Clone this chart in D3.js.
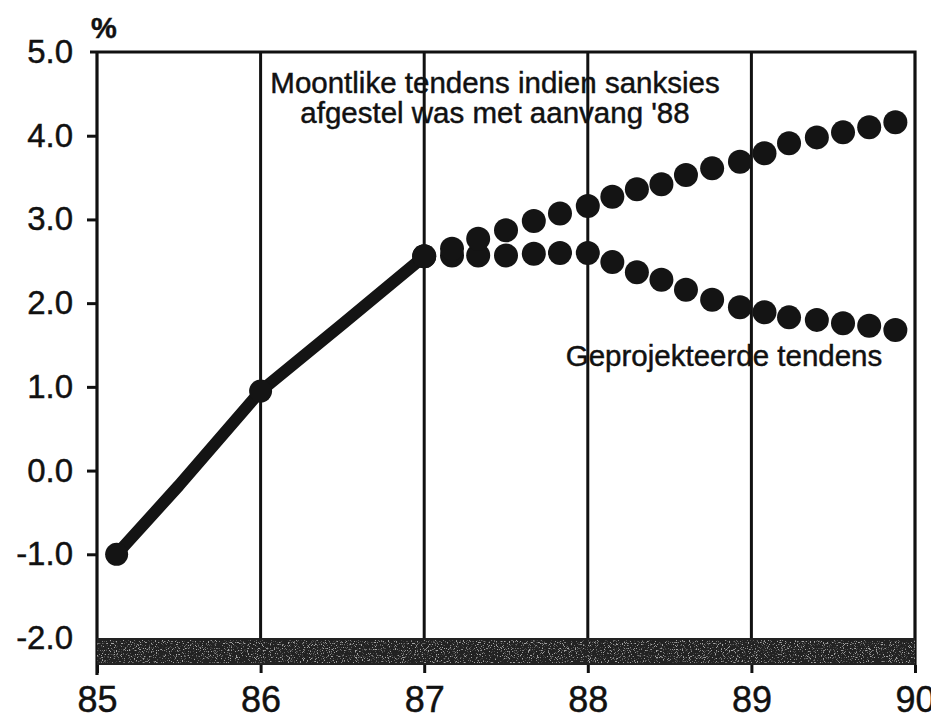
<!DOCTYPE html>
<html>
<head>
<meta charset="utf-8">
<script src="https://cdn.jsdelivr.net/npm/d3@7"></script>
<style>
  html, body { margin: 0; padding: 0; background: #fff; }
  svg { display: block; }
  text { font-family: "Liberation Sans", Arial, Helvetica, sans-serif; fill: #111; stroke: #111; stroke-width: 0.45px; }
</style>
</head>
<body>
<div id="chart"></div>
<script>
// tick labels
const yearTicks = [85, 86, 87, 88, 89, 90];
const pctTicks = [5, 4, 3, 2, 1, 0, -1, -2];

// actual trend up to '87 (solid line)
const actualYears = [85.12, 85.5, 86.0, 86.5, 87.0];
const actualValues = [-1.0, -0.18, 0.95, 1.75, 2.56];
const actualDots = [85.12, 86.0];

// projections from '87 onwards (dotted series)
const projYears = [87.0, 87.17, 87.33, 87.5, 87.67, 87.83, 88.0, 88.15, 88.3, 88.45,
                   88.6, 88.76, 88.93, 89.08, 89.23, 89.4, 89.56, 89.72, 89.88];
const liftedValues = [2.56, 2.65, 2.77, 2.87, 2.98, 3.07, 3.16, 3.27, 3.36, 3.42,
                      3.53, 3.61, 3.69, 3.79, 3.91, 3.98, 4.04, 4.10, 4.16];
const projectedValues = [2.56, 2.57, 2.57, 2.57, 2.59, 2.60, 2.60, 2.49, 2.37, 2.28,
                         2.16, 2.04, 1.95, 1.89, 1.83, 1.80, 1.76, 1.73, 1.68];

const labelLifted = ["Moontlike tendens indien sanksies", "afgestel was met aanvang '88"];
const labelProjected = "Geprojekteerde tendens";

const W = 931, H = 719;

const svg = d3.select("#chart").append("svg")
  .attr("width", W)
  .attr("height", H);

const x = d3.scaleLinear().domain([85, 90]).range([97, 915]);
const y = d3.scaleLinear().domain([-2, 5]).range([638, 52]);
const bandBottom = 665;

// grain texture for the bottom band
const defs = svg.append("defs");
const f = defs.append("filter").attr("id", "grain")
  .attr("x", 0).attr("y", 0).attr("width", 1).attr("height", 1);
f.append("feTurbulence")
  .attr("type", "fractalNoise")
  .attr("baseFrequency", 0.85)
  .attr("numOctaves", 2)
  .attr("seed", 7);
f.append("feColorMatrix")
  .attr("type", "matrix")
  .attr("values", "0 0 0 0 1  0 0 0 0 1  0 0 0 0 1  7 0 0 0 -4.0");

// vertical year lines
svg.append("g")
  .selectAll("line")
  .data(yearTicks.slice(1, -1))
  .enter()
  .append("line")
    .attr("x1", d => x(d))
    .attr("x2", d => x(d))
    .attr("y1", y(5))
    .attr("y2", y(-2))
    .attr("stroke", "#111")
    .attr("stroke-width", 3);

// frame: top, left, right
svg.append("path")
  .attr("d", `M${x(85) - 7},${y(5)}H${x(90)}V${bandBottom}M${x(85)},${y(5)}V${bandBottom + 10}`)
  .attr("fill", "none")
  .attr("stroke", "#111")
  .attr("stroke-width", 3.2);

// bottom band
svg.append("rect")
  .attr("x", x(85))
  .attr("y", y(-2))
  .attr("width", x(90) - x(85))
  .attr("height", bandBottom - y(-2))
  .attr("fill", "#222");
svg.append("rect")
  .attr("x", x(85))
  .attr("y", y(-2) + 2)
  .attr("width", x(90) - x(85))
  .attr("height", bandBottom - y(-2) - 4)
  .attr("fill", "#fff")
  .attr("filter", "url(#grain)")
  .attr("opacity", 0.6);

// Y axis
const yAxis = svg.append("g")
  .attr("transform", `translate(${x(85)},0)`)
  .call(d3.axisLeft(y)
    .tickValues(pctTicks)
    .tickSize(10)
    .tickPadding(14)
    .tickFormat(d => d3.format(".1f")(d).replace("\u2212", "-")));
yAxis.select(".domain").remove();
yAxis.selectAll(".tick line").attr("stroke", "#111").attr("stroke-width", 3)
  .filter(d => d === 5 || d === -2).remove();
yAxis.selectAll(".tick text")
  .attr("font-size", 33)
  .attr("fill", "#111")
  .attr("font-family", "Liberation Sans, Arial, sans-serif");

// X axis
const xAxis = svg.append("g")
  .attr("transform", `translate(0,${bandBottom})`)
  .call(d3.axisBottom(x)
    .tickValues(yearTicks)
    .tickSize(8)
    .tickPadding(13)
    .tickFormat(d => d));
xAxis.select(".domain").remove();
xAxis.selectAll(".tick line").attr("stroke", "#111").attr("stroke-width", 3);
xAxis.selectAll(".tick text")
  .attr("font-size", 36)
  .attr("fill", "#111")
  .attr("font-family", "Liberation Sans, Arial, sans-serif");

// % label
svg.append("text")
  .attr("x", 91)
  .attr("y", 38)
  .attr("font-size", 29)
  .attr("font-weight", "bold")
  .text("%");

// actual line
const line = d3.line()
  .x(d => x(d[0]))
  .y(d => y(d[1]));
svg.append("path")
  .datum(actualYears.map((d, i) => [d, actualValues[i]]))
  .attr("d", line)
  .attr("fill", "none")
  .attr("stroke", "#141414")
  .attr("stroke-width", 12)
  .attr("stroke-linejoin", "round")
  .attr("stroke-linecap", "round");

svg.append("g")
  .selectAll("circle")
  .data(actualDots)
  .enter()
  .append("circle")
    .attr("cx", d => x(d))
    .attr("cy", d => y(actualValues[actualYears.indexOf(d)]))
    .attr("r", 11.5)
    .attr("fill", "#141414");

// projected series (dots)
function dots(values) {
  svg.append("g")
    .selectAll("circle")
    .data(projYears.map((d, i) => [d, values[i]]))
    .enter()
    .append("circle")
      .attr("cx", d => x(d[0]))
      .attr("cy", d => y(d[1]))
      .attr("r", 12)
      .attr("fill", "#141414");
}
dots(projectedValues);
dots(liftedValues);

// annotations
svg.append("text")
  .attr("text-anchor", "middle")
  .attr("font-size", 29.5)
  .selectAll("tspan")
  .data(labelLifted)
  .enter()
  .append("tspan")
    .attr("x", 495)
    .attr("y", (d, i) => 93 + i * 30)
    .text(d => d);

svg.append("text")
  .attr("x", 724)
  .attr("y", 366)
  .attr("text-anchor", "middle")
  .attr("font-size", 29.5)
  .text(labelProjected);
</script>
</body>
</html>
